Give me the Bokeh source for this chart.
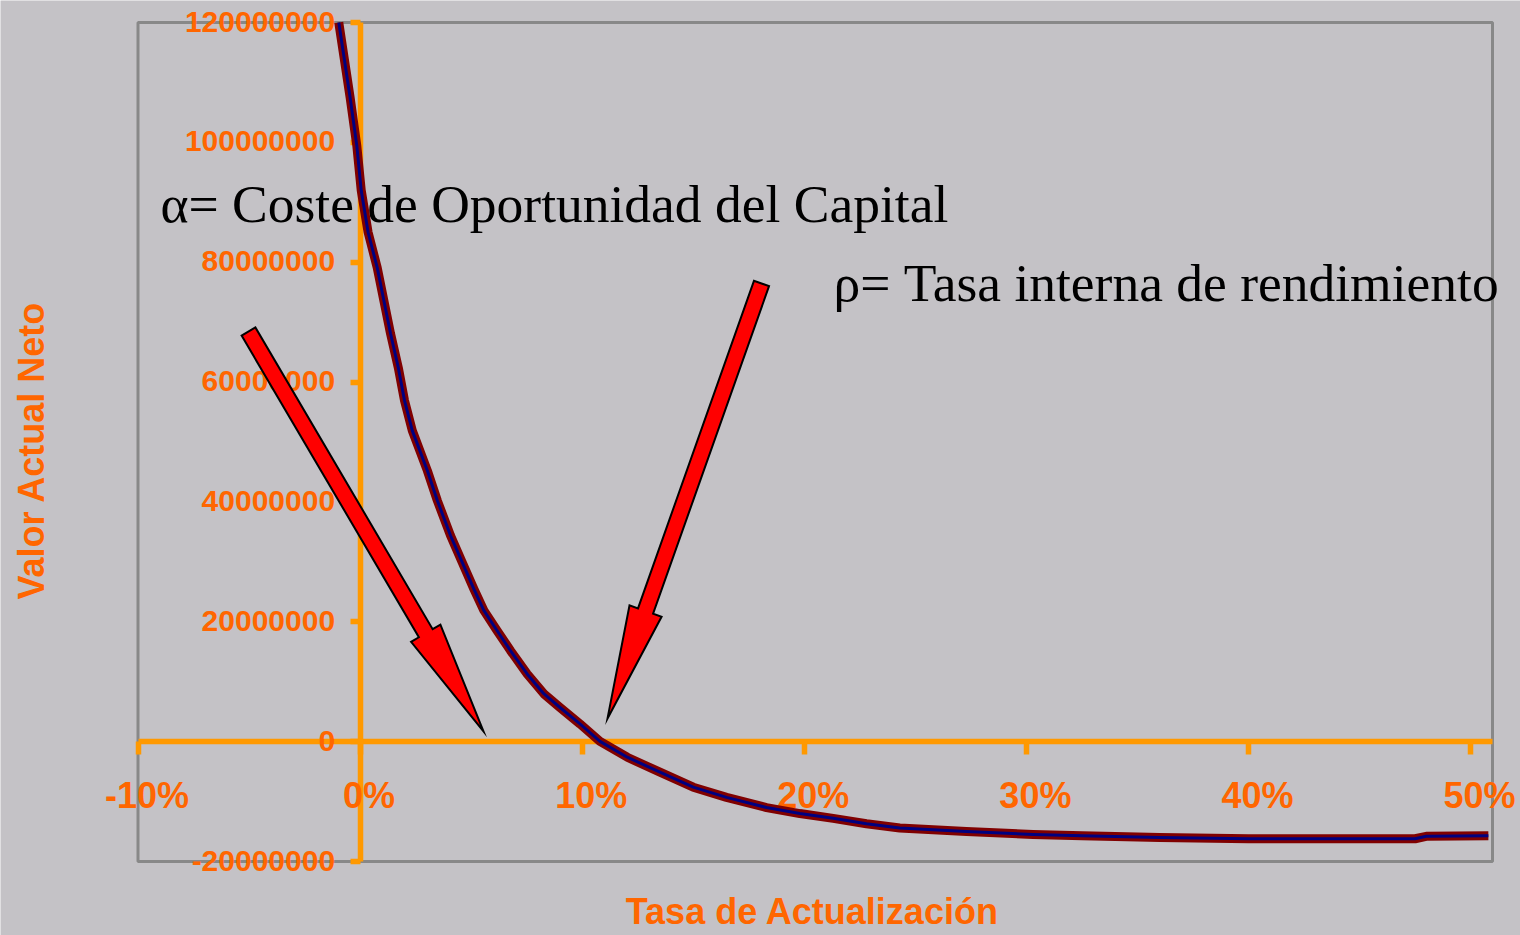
import numpy as np
from bokeh.plotting import figure
from bokeh.models import Range1d, FixedTicker, Label, LabelSet, ColumnDataSource
from bokeh.core.properties import value
from bokeh.embed import file_html
from bokeh.resources import INLINE

# ---------------- data ----------------
rates_pct = [-0.96, -0.45, -0.15, 0.05, 0.36, 0.77, 1.07, 1.37, 1.72, 2.00,
             2.35, 3.03, 3.48, 4.07, 4.60, 5.12, 5.57, 6.17, 6.77, 7.52,
             8.27, 9.00, 9.90, 10.80, 12.03, 13.50, 15.00, 16.50, 18.30, 19.80,
             21.30, 22.80, 24.30, 25.80, 27.30, 30.30, 32.50, 36.00, 40.00, 44.00,
             47.50, 48.00, 50.80]
npv_millions = [120.0, 107.5, 99.5, 92.0, 85.0, 79.1, 73.6, 68.1, 62.4, 56.9,
                51.9, 45.2, 40.2, 34.4, 29.9, 25.5, 21.9, 18.5, 15.2, 11.3,
                8.0, 5.7, 2.95, 0.05, -2.6, -5.1, -7.6, -9.3, -11.0, -12.0,
                -12.8, -13.7, -14.4, -14.7, -15.0, -15.5, -15.7, -16.0, -16.2, -16.2,
                -16.2, -15.8, -15.7]

x_ticks = [-0.1, 0.0, 0.1, 0.2, 0.3, 0.4, 0.5]
x_tick_labels = ["-10%", "0%", "10%", "20%", "30%", "40%", "50%"]
y_ticks = [-20000000, 0, 20000000, 40000000, 60000000, 80000000, 100000000, 120000000]
y_tick_labels = ["-20000000", "0", "20000000", "40000000", "60000000",
                 "80000000", "100000000", "120000000"]

x_title = "Tasa de Actualización"
y_title = "Valor Actual Neto"
note_alpha = "α= Coste de Oportunidad del Capital"
note_rho = "ρ= Tasa interna de rendimiento"

rates = [r / 100.0 for r in rates_pct]
npv = [v * 1e6 for v in npv_millions]

# ---------------- layout / styling ----------------
BG = "#C4C2C6"
AXIS_ORANGE = "#FF9900"
LABEL_ORANGE = "#FF6600"

W, H = 1520, 935
# plot box (in page pixels) and its data limits
BOX_L, BOX_T, BOX_R, BOX_B = 137.5, 22.0, 1492.0, 861.0
BOX_X0, BOX_Y0, BOX_Y1 = -0.1, -20e6, 120e6
PX_PER_X = 2221.0
PX_PER_Y = (BOX_B - BOX_T) / (BOX_Y1 - BOX_Y0)
BOX_X1 = BOX_X0 + (BOX_R - BOX_L) / PX_PER_X

# the data frame covers the whole canvas so that texts are not clipped
XS = BOX_X0 - BOX_L / PX_PER_X
XE = XS + W / PX_PER_X
YE = BOX_Y1 + BOX_T / PX_PER_Y
YS = YE - H / PX_PER_Y

p = figure(width=W, height=H, output_backend="svg", toolbar_location=None,
           x_range=Range1d(XS, XE), y_range=Range1d(YS, YE),
           min_border=0, min_border_left=0, min_border_right=0,
           min_border_top=0, min_border_bottom=0)
p.background_fill_color = BG
p.border_fill_color = BG
p.outline_line_color = None
p.grid.visible = False

# plot box border
p.quad(left=[BOX_X0], right=[BOX_X1], bottom=[BOX_Y0], top=[BOX_Y1],
       fill_color=None, line_color="#888888", line_width=3)


def style_fixed_axis(ax, ticks, tick_out, bounds):
    ax.fixed_location = 0
    ax.bounds = bounds
    ax.ticker = FixedTicker(ticks=ticks)
    ax.axis_line_color = AXIS_ORANGE
    ax.axis_line_width = 5.5
    ax.major_tick_line_color = AXIS_ORANGE
    ax.major_tick_line_width = 5.5
    ax.major_tick_in = 0
    ax.major_tick_out = tick_out
    ax.minor_tick_line_color = None
    ax.major_label_text_color = None


style_fixed_axis(p.xaxis[0], x_ticks, 13, (BOX_X0, BOX_X1))
style_fixed_axis(p.yaxis[0], y_ticks, 10, (BOX_Y0, BOX_Y1))

# tick labels
x_src = ColumnDataSource(dict(x=x_ticks, y=[0] * len(x_ticks), t=x_tick_labels))
p.add_layout(LabelSet(x="x", y="y", text="t", source=x_src, x_offset=9, y_offset=-66,
                      text_align="center", text_baseline="alphabetic",
                      text_font=value("Liberation Sans"), text_font_style="bold",
                      text_font_size="36px", text_color=LABEL_ORANGE))
y_src = ColumnDataSource(dict(x=[0] * len(y_ticks), y=y_ticks, t=y_tick_labels))
p.add_layout(LabelSet(x="x", y="y", text="t", source=y_src, x_offset=-25, y_offset=-9,
                      text_align="right", text_baseline="alphabetic",
                      text_font=value("Liberation Sans"), text_font_style="bold",
                      text_font_size="30px", text_color=LABEL_ORANGE))

# ---------------- curve ----------------
p.line(rates, npv, line_color="#800000", line_width=9, line_join="round", level="overlay")
p.line(rates, npv, line_color="#000080", line_width=3, line_join="round", level="overlay")


# ---------------- annotations ----------------
def px_to_data(px, py):
    return BOX_X0 + (px - BOX_L) / PX_PER_X, BOX_Y1 - (py - BOX_T) / PX_PER_Y


def block_arrow(tail, tip, shaft_hw=8.0, head_hw=17.0, head_len=114.0):
    t = np.array(tail, float)
    q = np.array(tip, float)
    d = (q - t) / np.linalg.norm(q - t)
    n = np.array([-d[1], d[0]])
    h = q - d * head_len
    pts = [t + n * shaft_hw, h + n * shaft_hw, h + n * head_hw, q,
           h - n * head_hw, h - n * shaft_hw, t - n * shaft_hw]
    xs, ys = zip(*[px_to_data(*pt) for pt in pts])
    return list(xs), list(ys)


for tail, tip in [((248, 331), (483, 731)), ((761, 283), (607, 718))]:
    ax, ay = block_arrow(tail, tip)
    p.patch(ax, ay, fill_color="#FF0000", line_color="black", line_width=2,
            line_join="miter", level="overlay")

ax_, ay_ = px_to_data(160, 203)
p.add_layout(Label(x=ax_, y=ay_, text=note_alpha, text_font="Liberation Serif",
                   text_font_size="53.5px", text_color="black",
                   text_align="left", text_baseline="alphabetic"))
rx_, ry_ = px_to_data(833, 282)
p.add_layout(Label(x=rx_, y=ry_, text=note_rho, text_font="Liberation Serif",
                   text_font_size="53.5px", text_color="black",
                   text_align="left", text_baseline="alphabetic"))

tx, ty = px_to_data(812, 911)
p.add_layout(Label(x=tx, y=ty, text=x_title, text_font="Liberation Sans",
                   text_font_style="bold", text_font_size="36px",
                   text_color=LABEL_ORANGE, text_align="center",
                   text_baseline="alphabetic"))
vx, vy = px_to_data(31, 450)
p.add_layout(Label(x=vx, y=vy, text=y_title, text_font="Liberation Sans",
                   text_font_style="bold", text_font_size="36px",
                   text_color=LABEL_ORANGE, text_align="center",
                   text_baseline="alphabetic", angle=np.pi / 2))

open("out.html", "w").write(file_html(p, INLINE))
